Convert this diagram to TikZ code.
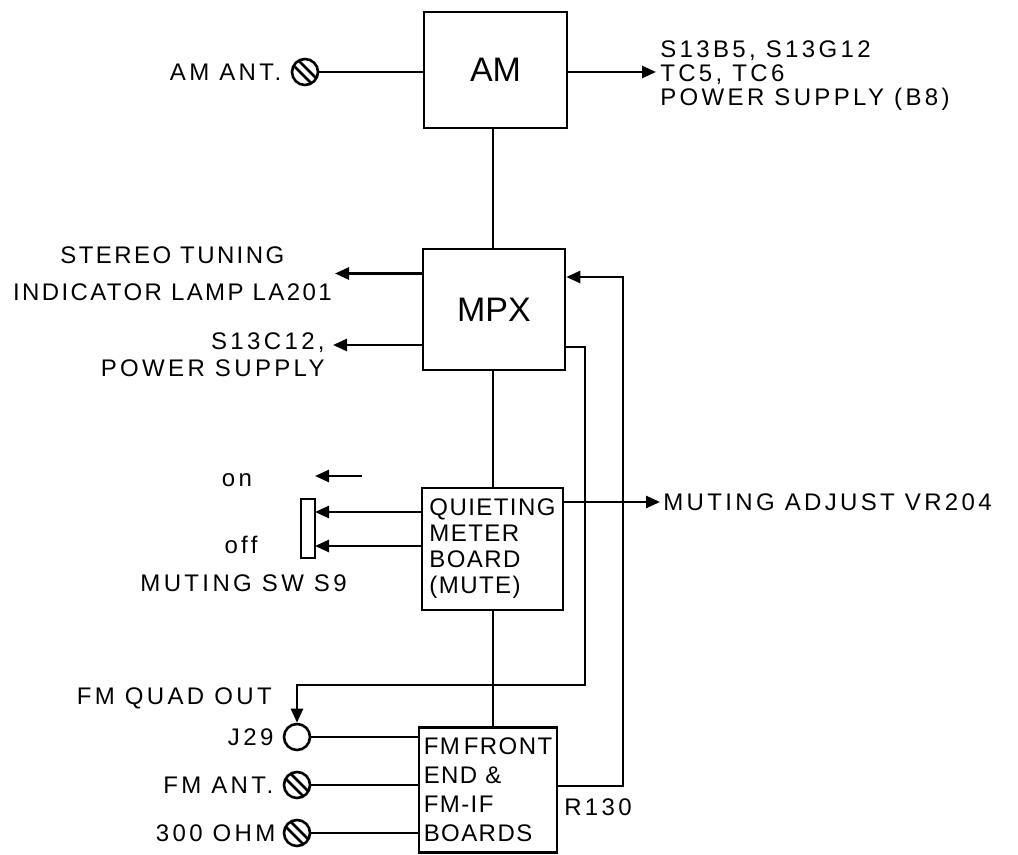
\documentclass[tikz,border=0pt]{standalone}
\usepackage{fontspec}
\usepackage{tikz}
\usetikzlibrary{arrows.meta,positioning}
\newfontfamily\stencil[LetterSpace=14]{Liberation Sans}
\newfontfamily\stenciltight[LetterSpace=10]{Liberation Sans}
\newfontfamily\boxfont[LetterSpace=6]{Liberation Sans}
\newfontfamily\plainsans{Liberation Sans}

\begin{document}
\begin{tikzpicture}[x=0.5pt,y=-0.5pt,line width=1.3pt,
    lbl/.style={font=\stencil\fontsize{12}{14}\selectfont, inner sep=1pt},
    blk/.style={draw, line width=1.3pt, inner sep=0.5pt, font=\boxfont\fontsize{12}{14}\selectfont, align=left},
    big/.style={font=\plainsans\fontsize{17}{20}\selectfont},
    jack/.style={circle, draw, minimum size=13pt, inner sep=0pt},
    screw/.style={jack, path picture={
        \draw[shift={(path picture bounding box.center)}]
            (-11.5,-16.5) -- (16.5,11.5) (-16.5,-11.5) -- (11.5,16.5);}},
    arr/.style={-{Triangle[length=7pt,width=6pt]}}]
    \useasboundingbox (0,0) rectangle (1018,855);

    % Blocks
    \node[blk,big,minimum width=71.5pt,minimum height=58pt] (AM) at (495.5,70) {AM};
    \node[blk,big,minimum width=71pt,minimum height=60.5pt] (MPX) at (494,309.5) {MPX};
    \node[blk,minimum width=70.5pt,minimum height=61pt] (QM) at (492.5,549)
        {QUIETING\\[-1pt]METER\\[-1pt]BOARD\\[-1pt](MUTE)};
    \node[blk,minimum width=69pt,minimum height=62.5pt] (FM) at (488,790)
        {FM\,FRONT\\[0.5pt]END \&\\[0.5pt]FM-IF\\[0.5pt]BOARDS};

    % Main trunk
    \coordinate (trunk) at (493,0);
    \draw (trunk |- AM.south) -- (trunk |- MPX.north);
    \draw (trunk |- MPX.south) -- (trunk |- QM.north);
    \draw (trunk |- QM.south) -- (trunk |- FM.north);

    % AM side
    \node[screw] (amscrew) at (305,72) {};
    \node[lbl,left=3pt of amscrew] (amant) {AM ANT.};
    \draw (amscrew.east) -- (amscrew.east -| AM.west);
    \coordinate (amoutTip) at (656,72);
    \node[lbl,anchor=west,align=left] (amout) at (657,76)
        {S13B5, S13G12\\[-2pt]TC5, TC6\\[-2pt]POWER SUPPLY (B8)};
    \draw[arr] (AM.east |- amoutTip) -- (amoutTip);

    % MPX outputs
    \node[lbl,font=\stenciltight\fontsize{12}{14}\selectfont,anchor=east,align=center] (lamp) at (335,273.5)
        {STEREO TUNING\\[4.5pt]INDICATOR LAMP LA201};
    \draw[arr] (MPX.west |- lamp.east) -- (lamp.east);
    \coordinate (psupTip) at (333,345);
    \node[lbl,anchor=north east,align=right] (psup) at (328,329)
        {S13C12,\\[-0.5pt]POWER SUPPLY};
    \draw[arr] (MPX.west |- psupTip) -- (psupTip);

    % Muting switch
    \node[draw,minimum width=7pt,minimum height=29.5pt,inner sep=0pt] (sw) at (308,528.5) {};
    \coordinate (swOn) at (315,512);
    \coordinate (swOff) at (315,546);
    \draw[arr] (QM.west |- swOn) -- (swOn);
    \draw[arr] (QM.west |- swOff) -- (swOff);
    \coordinate (onTail) at (362,476);
    \coordinate (onHead) at (315,476);
    \draw[arr] (onTail) -- (onHead);
    \node[lbl] (ontxt) at (237,480) {on};
    \node[lbl] (offtxt) at (241,545) {off};
    \node[lbl,anchor=east] (mutsw) at (350,583) {MUTING SW S9};

    % Muting adjust
    \node[lbl,anchor=west] (mutadj) at (660,502) {MUTING ADJUST VR204};
    \draw[arr] (QM.east |- mutadj.west) -- (mutadj.west);

    % FM inputs
    \node[jack] (j29) at (297,737) {};
    \node[lbl,left=3pt of j29] (j29txt) {J29};
    \node[lbl,anchor=east] (quadtxt) at (275,698) {FM QUAD OUT};
    \node[screw] (fmscrew) at (297,785) {};
    \node[lbl,left=3pt of fmscrew] (fmant) {FM ANT.};
    \node[screw] (ohmscrew) at (297,833) {};
    \node[lbl,left=2pt of ohmscrew] (ohm) {300 OHM};
    \draw (j29.east) -- (j29.east -| FM.west);
    \draw (fmscrew.east) -- (fmscrew.east -| FM.west);
    \draw (ohmscrew.east) -- (ohmscrew.east -| FM.west);

    % Quad out loop
    \coordinate (qA) at (585,347);
    \coordinate (qB) at (585,685);
    \coordinate (qC) at (297,685);
    \draw[arr] (MPX.east |- qA) -- (qA) -- (qB) -- (qC) -- (j29.north);

    % R130 feedback
    \coordinate (fbLow) at (623,786);
    \coordinate (fbHigh) at (623,277);
    \draw[arr] (FM.east |- fbLow) -- (fbLow) -- (fbHigh) -- (MPX.east |- fbHigh);
    \node[lbl,anchor=north west] (r130) at (561,795) {R130};
\end{tikzpicture}
\end{document}
